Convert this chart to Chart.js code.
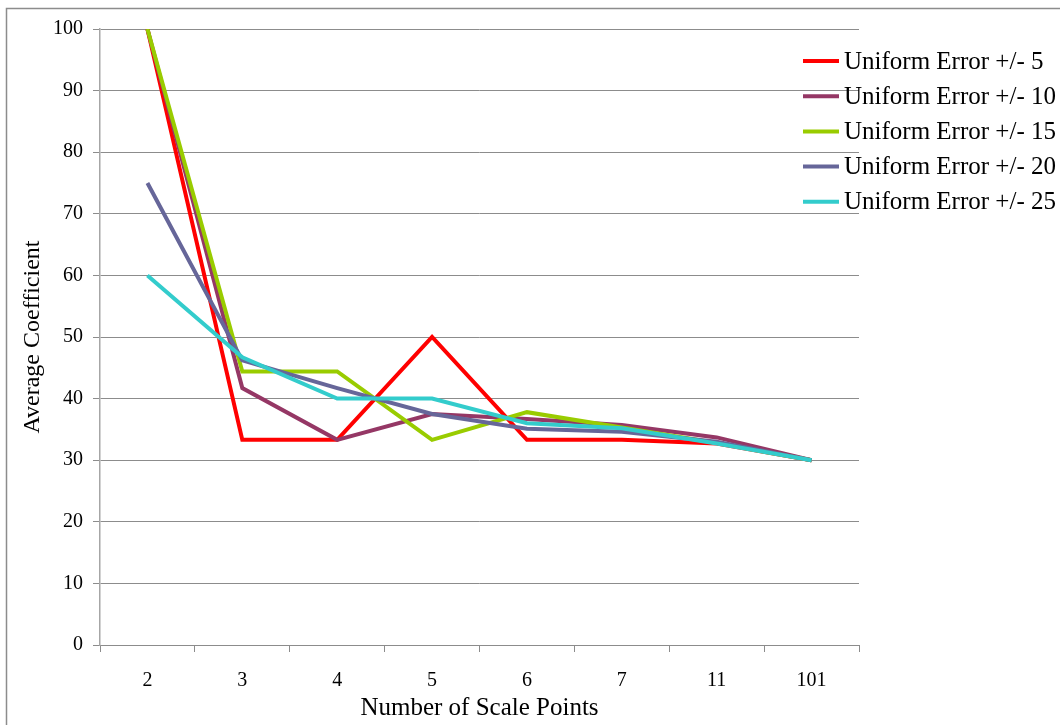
<!DOCTYPE html>
<html>
<head>
<meta charset="utf-8">
<script src="https://cdn.jsdelivr.net/npm/chart.js@4.4.1/dist/chart.umd.min.js"></script>
<style>
  html, body { margin: 0; padding: 0; background: #ffffff; }
  #wrap { width: 1060px; height: 725px; position: relative; }
</style>
</head>
<body>
<div id="wrap"><canvas id="chart" width="1060" height="725"></canvas></div>
<script>
// Number of scale points (categories along the x axis)
const scalePoints = ['2', '3', '4', '5', '6', '7', '11', '101'];

// Average coefficient for each uniform error level
const error5  = [100, 33.3, 33.3, 50.0, 33.3, 33.3, 32.7, 30.0];
const error10 = [100, 41.7, 33.3, 37.5, 36.7, 35.7, 33.7, 30.0];
const error15 = [100, 44.4, 44.4, 33.3, 37.8, 35.3, 32.8, 30.0];
const error20 = [75.0, 46.2, 41.7, 37.5, 35.1, 34.6, 33.0, 30.0];
const error25 = [60.0, 46.7, 40.0, 40.0, 36.0, 35.2, 32.7, 30.0];

const seriesLabels = [
  'Uniform Error +/- 5',
  'Uniform Error +/- 10',
  'Uniform Error +/- 15',
  'Uniform Error +/- 20',
  'Uniform Error +/- 25'
];
const seriesColors = ['#ff0000', '#953765', '#99cc00', '#666699', '#33cccc'];
const seriesValues = [error5, error10, error15, error20, error25];

const yTickValues = [0, 10, 20, 30, 40, 50, 60, 70, 80, 90, 100];

const serif = '"Liberation Serif", "Times New Roman", serif';

// Outer frame around the whole chart
const framePlugin = {
  id: 'frame',
  beforeDraw(chart) {
    const ctx = chart.ctx;
    ctx.save();
    ctx.fillStyle = '#ffffff';
    ctx.fillRect(0, 0, chart.width, chart.height);
    ctx.strokeStyle = '#8c8c8c';
    ctx.lineWidth = 1.5;
    ctx.strokeRect(6.5, 8.5, chart.width + 20, chart.height + 20);
    ctx.restore();
  }
};

// Legend on the right with line samples
const sideLegend = {
  id: 'sideLegend',
  afterDraw(chart) {
    const ctx = chart.ctx;
    const x0 = 803, x1 = 839, tx = 844;
    const y0 = 61, step = 35.2;
    ctx.save();
    ctx.font = '25px ' + serif;
    ctx.textBaseline = 'middle';
    ctx.textAlign = 'left';
    chart.data.datasets.forEach((ds, i) => {
      const y = y0 + i * step;
      ctx.strokeStyle = ds.borderColor;
      ctx.lineWidth = 4;
      ctx.beginPath();
      ctx.moveTo(x0, y);
      ctx.lineTo(x1, y);
      ctx.stroke();
      ctx.fillStyle = '#000000';
      ctx.fillText(ds.label, tx, y + 1);
    });
    ctx.restore();
  }
};

const datasets = seriesValues.map((vals, i) => ({
  label: seriesLabels[i],
  data: vals,
  borderColor: seriesColors[i],
  backgroundColor: seriesColors[i],
  borderWidth: 4,
  pointRadius: 0,
  pointHoverRadius: 0,
  tension: 0,
  fill: false,
  order: seriesValues.length - 1 - i
}));

new Chart(document.getElementById('chart'), {
  type: 'line',
  data: { labels: scalePoints, datasets },
  options: {
    responsive: false,
    animation: false,
    events: [],
    layout: { padding: { top: 29, right: 201, bottom: 0, left: 0 } },
    plugins: {
      legend: { display: false },
      tooltip: { enabled: false }
    },
    scales: {
      x: {
        type: 'category',
        offset: true,
        grid: {
          offset: true,
          drawOnChartArea: false,
          drawTicks: true,
          tickLength: 7,
          color: '#8c8c8c'
        },
        border: { color: '#8c8c8c', width: 1 },
        ticks: {
          color: '#000000',
          padding: 17,
          maxRotation: 0,
          autoSkip: false,
          font: { family: serif, size: 20 }
        },
        title: {
          display: true,
          text: 'Number of Scale Points',
          color: '#000000',
          font: { family: serif, size: 25 },
          padding: { top: 0, bottom: 2 }
        },
        afterFit(scale) { scale.height = 80; }
      },
      y: {
        min: 0,
        max: 100,
        afterBuildTicks(scale) {
          scale.ticks = yTickValues.map(v => ({ value: v }));
        },
        grid: {
          color: '#8c8c8c',
          lineWidth: 1,
          drawTicks: true,
          tickLength: 7
        },
        border: { color: '#a6a6a6', width: 1.5 },
        ticks: {
          color: '#000000',
          padding: 10,
          font: { family: serif, size: 20 }
        },
        title: {
          display: true,
          text: 'Average Coefficient',
          color: '#000000',
          font: { family: serif, size: 24 },
          padding: { top: 18, bottom: 0 }
        },
        afterFit(scale) { scale.width = 100; }
      }
    }
  },
  plugins: [framePlugin, sideLegend]
});
</script>
</body>
</html>
